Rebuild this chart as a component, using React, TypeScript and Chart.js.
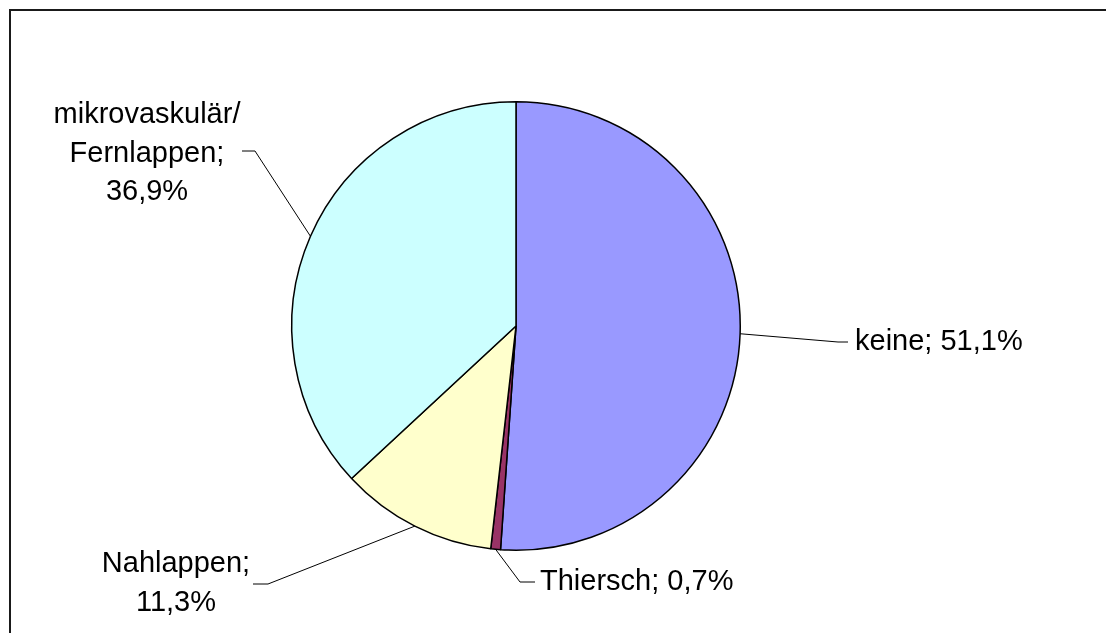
import React, { useEffect, useRef } from "react";
import { Chart, registerables } from "chart.js";

Chart.register(...registerables);

// Share of cases per flap type (percent)
const CATEGORIES = ["keine", "Thiersch", "Nahlappen", "mikrovaskulär/Fernlappen"];
const VALUES = [51.1, 0.7, 11.3, 36.9];
const COLORS = ["#9999FF", "#993366", "#FFFFCC", "#CCFFFF"];

// Callout layout per slice: elbow point, end of the short horizontal stub,
// text anchor (first baseline), alignment and whether the label wraps.
const LABEL_LAYOUT = [
  { elbow: [838, 342], stub: [848, 342], text: [855, 350], align: "left", stacked: false },
  { elbow: [520, 582], stub: [535, 582], text: [540, 590], align: "left", stacked: false },
  { elbow: [268, 584], stub: [253, 584], text: [176, 572], align: "center", stacked: true },
  { elbow: [255, 151], stub: [242, 151], text: [147, 123], align: "center", stacked: true },
];
const LINE_STEP = 38.5;
const FONT = "29px 'Liberation Sans', Arial, sans-serif";

const fmtPct = (v: number) => v.toFixed(1).replace(".", ",") + "%";

function labelLines(i: number): string[] {
  const name = CATEGORIES[i];
  const pct = fmtPct(VALUES[i]);
  if (!LABEL_LAYOUT[i].stacked) return [`${name}; ${pct}`];
  const parts = name.replace("/", "/\n").split("\n");
  parts[parts.length - 1] += ";";
  return [...parts, pct];
}

// Outer chart frame: only its top and left edges fall inside the view.
const framePlugin = {
  id: "frame",
  beforeDraw(chart: any) {
    const { ctx, width, height } = chart;
    ctx.save();
    ctx.fillStyle = "#ffffff";
    ctx.fillRect(0, 0, width, height);
    ctx.strokeStyle = "#1a1a1a";
    ctx.lineWidth = 2;
    ctx.lineCap = "butt";
    ctx.beginPath();
    ctx.moveTo(10, height);
    ctx.lineTo(10, 10);
    ctx.lineTo(width, 10);
    ctx.stroke();
    ctx.restore();
  },
};

const calloutPlugin = {
  id: "callouts",
  afterDatasetsDraw(chart: any) {
    const { ctx } = chart;
    const meta = chart.getDatasetMeta(0);
    ctx.save();
    meta.data.forEach((arc: any, i: number) => {
      const { x, y, startAngle, endAngle, outerRadius } = arc.getProps(
        ["x", "y", "startAngle", "endAngle", "outerRadius"],
        true
      );
      const mid = (startAngle + endAngle) / 2;
      const sx = x + Math.cos(mid) * outerRadius;
      const sy = y + Math.sin(mid) * outerRadius;
      const lay = LABEL_LAYOUT[i];
      ctx.strokeStyle = "#000000";
      ctx.lineWidth = 1;
      ctx.beginPath();
      ctx.moveTo(sx, sy);
      ctx.lineTo(lay.elbow[0], lay.elbow[1]);
      ctx.lineTo(lay.stub[0], lay.stub[1]);
      ctx.stroke();

      ctx.fillStyle = "#000000";
      ctx.font = FONT;
      ctx.textAlign = lay.align as CanvasTextAlign;
      ctx.textBaseline = "alphabetic";
      labelLines(i).forEach((line, k) => {
        ctx.fillText(line, lay.text[0], lay.text[1] + k * LINE_STEP);
      });
    });
    ctx.restore();
  },
};

export default function App() {
  const canvasRef = useRef<HTMLCanvasElement | null>(null);

  useEffect(() => {
    if (!canvasRef.current) return;
    const chart = new Chart(canvasRef.current, {
      type: "pie",
      data: {
        labels: CATEGORIES,
        datasets: [
          {
            data: VALUES,
            backgroundColor: COLORS,
            borderColor: "#000000",
            borderWidth: 1.5,
          },
        ],
      },
      options: {
        animation: false,
        responsive: true,
        maintainAspectRatio: false,
        layout: { padding: { top: 101, bottom: 82, left: 291, right: 365 } },
        plugins: {
          legend: { display: false },
          tooltip: { enabled: false },
        },
      },
      plugins: [framePlugin, calloutPlugin],
    });
    return () => chart.destroy();
  }, []);

  return (
    <div style={{ position: "fixed", left: 0, top: 0, width: 1106, height: 633 }}>
      <canvas ref={canvasRef} />
    </div>
  );
}
